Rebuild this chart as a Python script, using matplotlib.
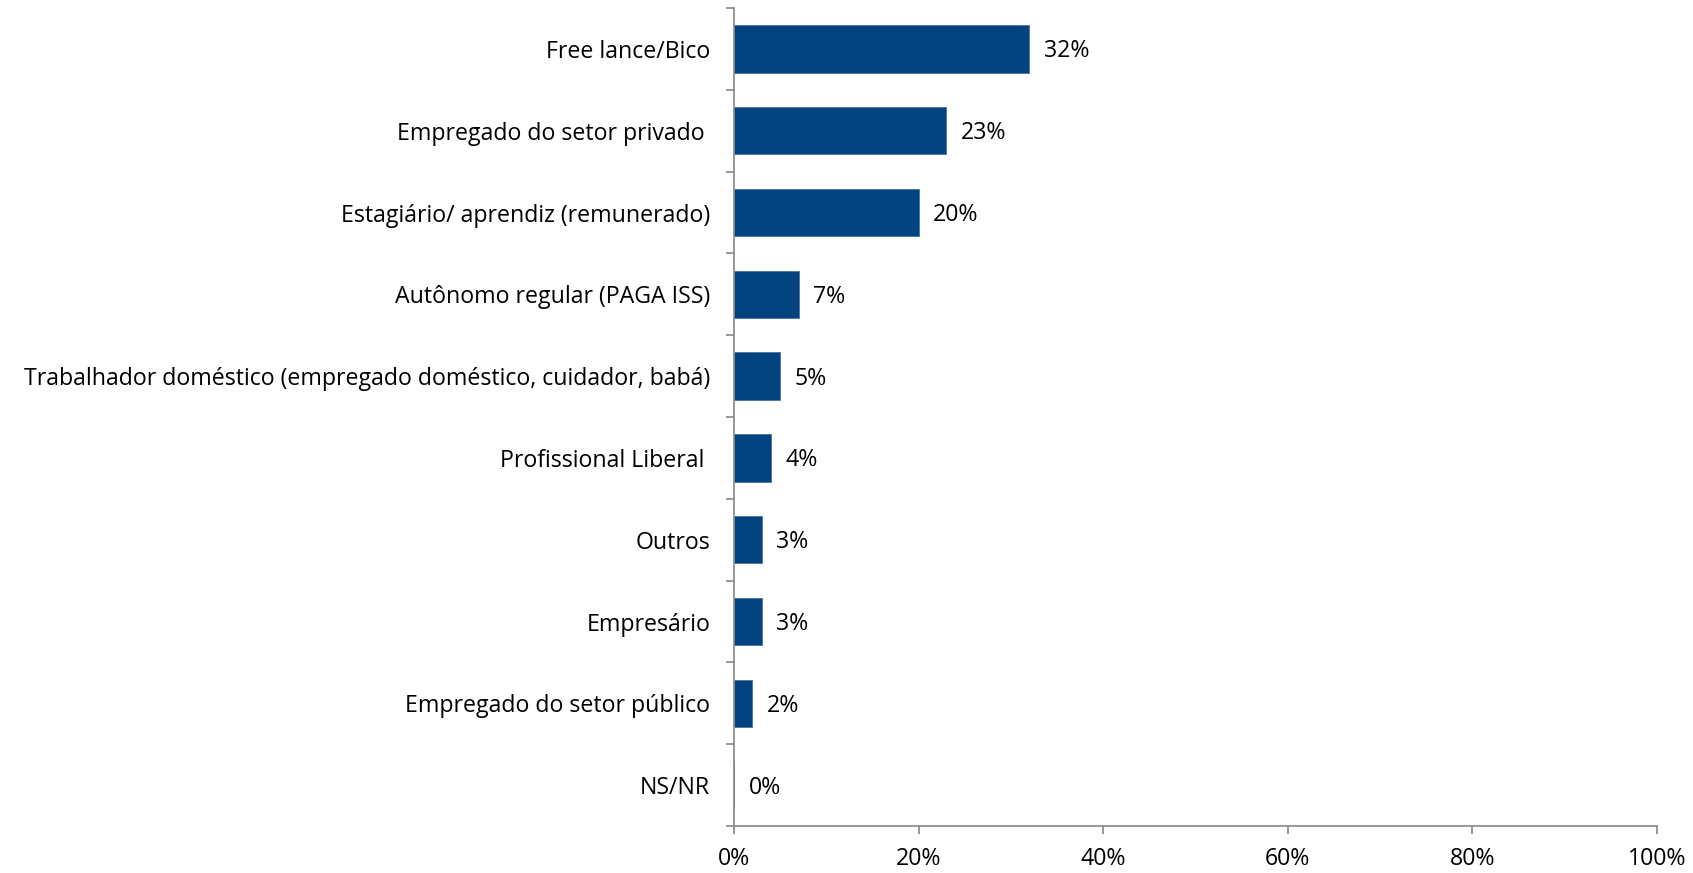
import matplotlib.pyplot as plt
import numpy as np

categories = [
    "Free lance/Bico",
    "Empregado do setor privado ",
    "Estagiário/ aprendiz (remunerado)",
    "Autônomo regular (PAGA ISS)",
    "Trabalhador doméstico (empregado doméstico, cuidador, babá)",
    "Profissional Liberal ",
    "Outros",
    "Empresário",
    "Empregado do setor público",
    "NS/NR",
]
values = [32, 23, 20, 7, 5, 4, 3, 3, 2, 0]
xticks = [0, 20, 40, 60, 80, 100]

plt.rcParams['font.family'] = ['Open Sans', 'DejaVu Sans']
bar_color = '#03437F'
axis_color = '#868686'
fs = 16.7

fig = plt.figure(figsize=(16.93, 8.73), dpi=100)
ax = fig.add_axes([0.4335, 0.0538, 0.9787 - 0.4335, 0.9908 - 0.0538])

pos = np.arange(len(categories))
ax.barh(pos, values, height=0.58, color=bar_color, edgecolor='#4a73a0', linewidth=0.6)

for p, v in zip(pos, values):
    ax.text(v + 1.6, p + 0.03, f"{v}%", va='center', ha='left', fontsize=fs)

ax.set_xlim(0, 100)
ax.set_ylim(len(categories) - 0.5, -0.5)
ax.set_xticks(xticks)
ax.set_xticklabels([f"{t}%" for t in xticks], fontsize=fs)
ax.set_yticks(pos)
ax.set_yticklabels(categories, fontsize=fs)
ax.set_yticks(np.arange(len(categories) + 1) - 0.5, minor=True)
ax.tick_params(axis='y', which='major', length=0, pad=17)
ax.tick_params(axis='y', which='minor', length=6, color=axis_color, width=1.2, direction='out')
ax.tick_params(axis='x', length=6, color=axis_color, width=1.2, direction='out', pad=9)

for s in ['top', 'right']:
    ax.spines[s].set_visible(False)
for s in ['left', 'bottom']:
    ax.spines[s].set_color(axis_color)
    ax.spines[s].set_linewidth(1.2)

fig.savefig('out.png', dpi=100)
